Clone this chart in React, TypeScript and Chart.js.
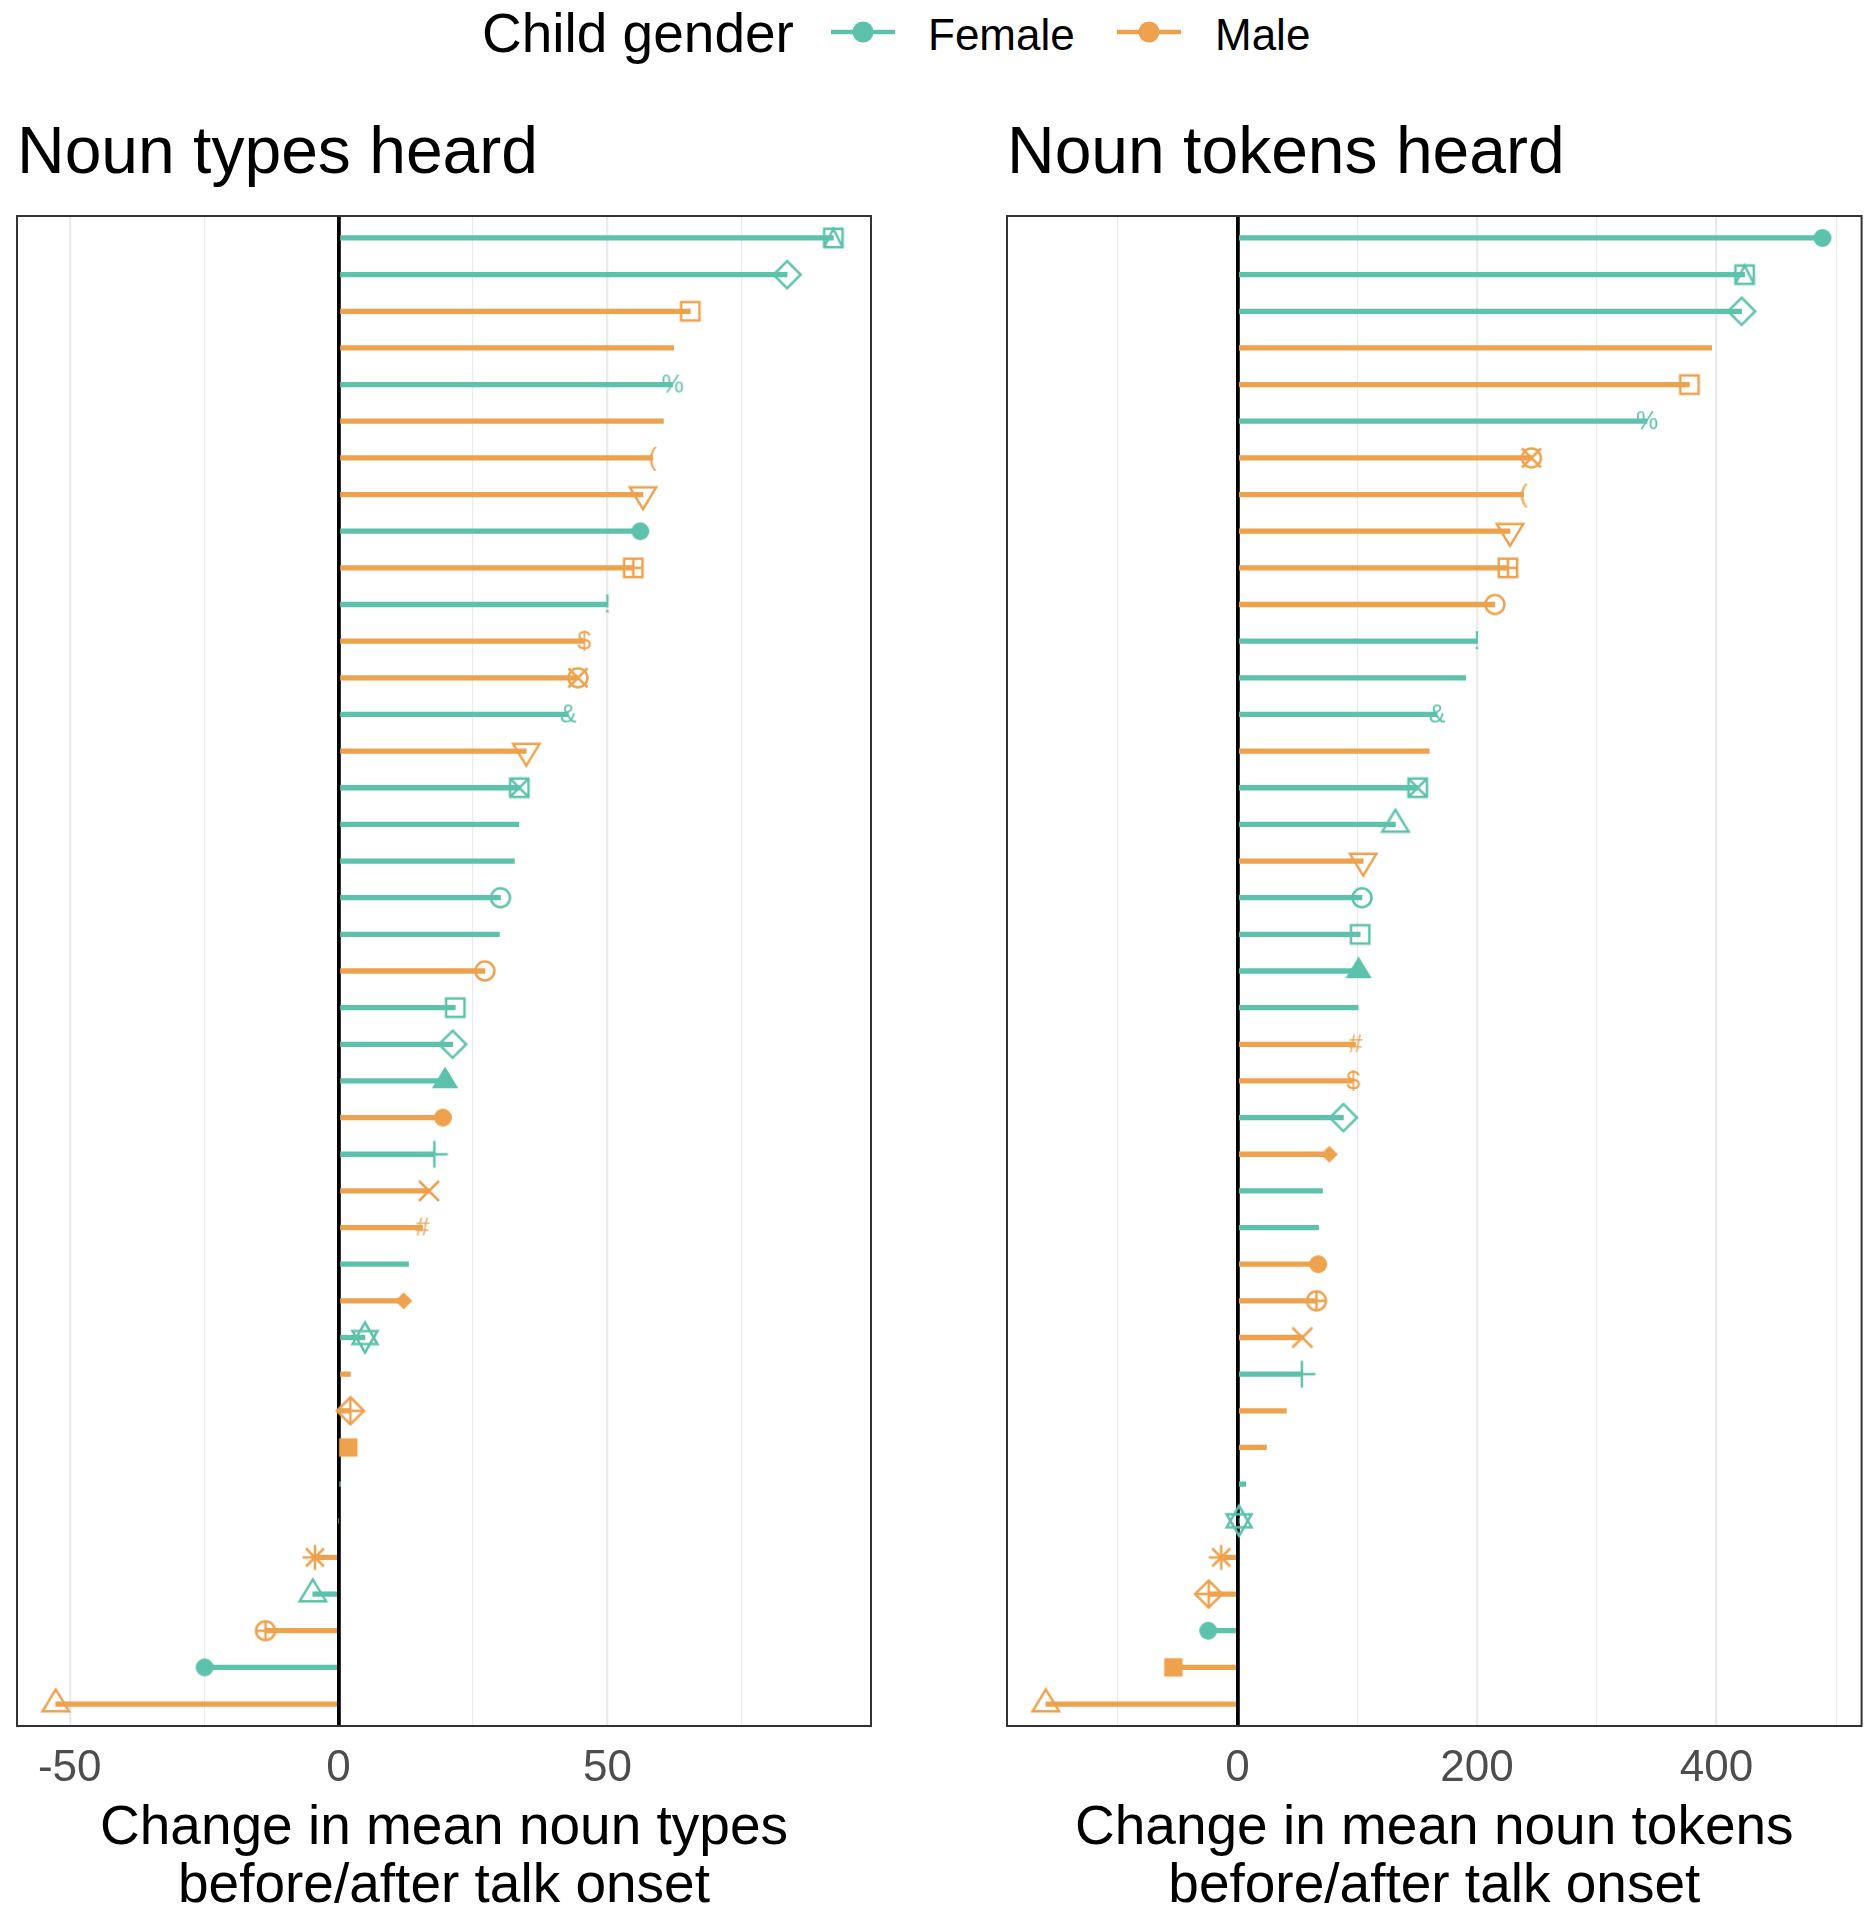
import React, { useEffect, useRef } from 'react';
import { Chart, registerables } from 'chart.js';

Chart.register(...registerables);

const FONT = "'Liberation Sans', Arial, Helvetica, sans-serif";
const FEMALE_COLOR = '#5DC2AC';
const MALE_COLOR = '#EEA24E';

// ---------- legend ----------
const legendTitle = 'Child gender';
const genderNames = ['Female', 'Male'];

// ---------- left panel: noun types ----------
const typesTitle = 'Noun types heard';
const typesAxisTitle = ['Change in mean noun types', 'before/after talk onset'];
const typesValues = [
  92.0, 83.4, 65.4, 62.3, 62.1, 60.4, 58.4, 56.6, 56.1, 54.8,
  50.0, 45.7, 44.5, 42.7, 34.9, 33.6, 33.5, 32.7, 30.1, 29.9,
  27.2, 21.7, 21.2, 19.8, 19.4, 17.8, 16.8, 15.6, 13.0, 12.1,
  4.9, 2.2, 2.2, 1.8, 0.2, 0, -4.4, -4.8, -13.6, -24.9, -52.6,
];
const typesGender = [
  'F', 'F', 'M', 'M', 'F', 'M', 'M', 'M', 'F', 'M',
  'F', 'M', 'M', 'F', 'M', 'F', 'F', 'F', 'F', 'F',
  'M', 'F', 'F', 'F', 'M', 'F', 'M', 'M', 'F', 'M',
  'F', 'M', 'M', 'M', 'F', 'M', 'M', 'F', 'M', 'F', 'M',
];
const typesShape = [
  'sqTri', 'diamond', 'square', '', '%', '', '(', 'triDown', 'dot', 'sqPlus',
  '!', '$', 'circCross', '&', 'triDown', 'sqCross', '', '', 'circle', '',
  'circle', 'square', 'diamond', 'triFill', 'dot', 'plus', 'x', '#', '', 'diamondFill',
  'star6', '', 'diamondPlus', 'squareFill', '', '', 'asterisk', 'triOpen', 'circPlus', 'dot', 'triOpen',
];
const typesGridLines = [-50, -25, 0, 25, 50, 75];
const typesTickLabels = [-50, 0, 50];

// ---------- right panel: noun tokens ----------
const tokensTitle = 'Noun tokens heard';
const tokensAxisTitle = ['Change in mean noun tokens', 'before/after talk onset'];
const tokensValues = [
  488.5, 423.5, 421.0, 396.0, 377.4, 342.0, 245.5, 239.0, 227.6, 225.8,
  215.0, 200.0, 190.7, 166.7, 160.2, 150.5, 131.9, 105.0, 104.0, 102.5,
  101.2, 100.8, 98.6, 96.8, 88.5, 76.7, 71.0, 67.8, 67.4, 66.0,
  54.2, 53.8, 40.9, 24.2, 7.0, 1.4, -13.5, -24.0, -24.4, -53.5, -160.0,
];
const tokensGender = [
  'F', 'F', 'F', 'M', 'M', 'F', 'M', 'M', 'M', 'M',
  'M', 'F', 'F', 'F', 'M', 'F', 'F', 'M', 'F', 'F',
  'F', 'F', 'M', 'M', 'F', 'M', 'F', 'F', 'M', 'M',
  'M', 'F', 'M', 'M', 'F', 'F', 'M', 'M', 'F', 'M', 'M',
];
const tokensShape = [
  'dot', 'sqTri', 'diamond', '', 'square', '%', 'circCross', '(', 'triDown', 'sqPlus',
  'circle', '!', '', '&', '', 'sqCross', 'triOpen', 'triDown', 'circle', 'square',
  'triFill', '', '#', '$', 'diamond', 'diamondFill', '', '', 'dot', 'circPlus',
  'x', 'plus', '', '', '', 'star6', 'asterisk', 'diamondPlus', 'dot', 'squareFill', 'triOpen',
];
const tokensGridLines = [-100, 0, 100, 200, 300, 400, 500];
const tokensTickLabels = [0, 200, 400];

// ---------- marker images (ggplot-like shapes) ----------
function makeMarker(shape: string, color: string): HTMLCanvasElement | null {
  if (!shape) return null;
  const S = 46;
  const c = document.createElement('canvas');
  c.width = S;
  c.height = S;
  const g = c.getContext('2d') as CanvasRenderingContext2D;
  g.translate(S / 2, S / 2);
  g.strokeStyle = color;
  g.fillStyle = color;
  g.lineWidth = 2.5;
  g.lineJoin = 'miter';
  const sq = 9.2;
  const rc = 9.5;
  const line = (x1: number, y1: number, x2: number, y2: number) => {
    g.beginPath();
    g.moveTo(x1, y1);
    g.lineTo(x2, y2);
    g.stroke();
  };
  const rect = () => g.strokeRect(-sq, -sq, 2 * sq, 2 * sq);
  const circ = () => {
    g.beginPath();
    g.arc(0, 0, rc, 0, Math.PI * 2);
    g.stroke();
  };
  const tri = (up: boolean, fill: boolean, w = 13.2, top = 14.6, bot = 7.2) => {
    const a = up ? -top : top;
    const b = up ? bot : -bot;
    g.beginPath();
    g.moveTo(0, a);
    g.lineTo(w, b);
    g.lineTo(-w, b);
    g.closePath();
    if (fill) g.fill();
    else g.stroke();
  };
  const dia = (d: number) => {
    g.beginPath();
    g.moveTo(0, -d);
    g.lineTo(d, 0);
    g.lineTo(0, d);
    g.lineTo(-d, 0);
    g.closePath();
  };
  switch (shape) {
    case 'square':
      rect();
      break;
    case 'sqTri':
      rect();
      g.beginPath();
      g.moveTo(-sq, sq);
      g.lineTo(0, -sq);
      g.lineTo(sq, sq);
      g.stroke();
      break;
    case 'sqCross':
      rect();
      line(-sq, -sq, sq, sq);
      line(-sq, sq, sq, -sq);
      break;
    case 'sqPlus':
      rect();
      line(0, -sq, 0, sq);
      line(-sq, 0, sq, 0);
      break;
    case 'squareFill':
      g.fillRect(-sq, -sq, 2 * sq, 2 * sq);
      break;
    case 'circle':
      circ();
      break;
    case 'dot':
      g.beginPath();
      g.arc(0, 0, 9, 0, Math.PI * 2);
      g.fill();
      break;
    case 'circCross':
      circ();
      line(-rc, -rc, rc, rc);
      line(-rc, rc, rc, -rc);
      break;
    case 'circPlus':
      circ();
      line(0, -rc, 0, rc);
      line(-rc, 0, rc, 0);
      break;
    case 'triOpen':
      tri(true, false);
      break;
    case 'triFill':
      tri(true, true);
      break;
    case 'triDown':
      tri(false, false);
      break;
    case 'star6':
      tri(true, false, 12.5, 15, 6.6);
      tri(false, false, 12.5, 15, 6.6);
      break;
    case 'diamond':
      dia(13.6);
      g.stroke();
      break;
    case 'diamondPlus':
      dia(13.6);
      g.stroke();
      line(0, -13.6, 0, 13.6);
      line(-13.6, 0, 13.6, 0);
      break;
    case 'diamondFill':
      dia(8.6);
      g.fill();
      break;
    case 'plus':
      line(0, -13.5, 0, 13.5);
      line(-13.5, 0, 13.5, 0);
      break;
    case 'x':
      line(-10, -10, 10, 10);
      line(-10, 10, 10, -10);
      break;
    case 'asterisk':
      line(0, -12.5, 0, 12.5);
      line(-12.5, 0, 12.5, 0);
      line(-9, -9, 9, 9);
      line(-9, 9, 9, -9);
      break;
    default:
      g.font = `25px ${FONT}`;
      g.textAlign = 'center';
      g.textBaseline = 'middle';
      g.fillText(shape, 0, 1);
  }
  return c;
}

const panelBorder = {
  id: 'panelBorder',
  afterDatasetsDraw(chart: any) {
    const { ctx, chartArea: a } = chart;
    ctx.save();
    ctx.strokeStyle = '#333333';
    ctx.lineWidth = 2;
    ctx.strokeRect(a.left, a.top, a.right - a.left, a.bottom - a.top);
    ctx.restore();
  },
};

type PanelProps = {
  left: number;
  width: number;
  padLeft: number;
  padRight: number;
  title: string;
  axisTitle: string[];
  values: number[];
  genders: string[];
  shapes: string[];
  xMin: number;
  xMax: number;
  gridLines: number[];
  tickLabels: number[];
};

function Panel(p: PanelProps) {
  const ref = useRef<HTMLCanvasElement | null>(null);
  useEffect(() => {
    const canvas = ref.current as HTMLCanvasElement;
    const points = p.values.map((v, i) => ({ x: v, y: i + 1 }));
    const colors = p.genders.map((g) => (g === 'F' ? FEMALE_COLOR : MALE_COLOR));
    const styles = p.shapes.map((s, i) => makeMarker(s, colors[i]) || 'circle');
    const radii = p.shapes.map((s) => (s ? 10 : 0));
    const chart = new Chart(canvas, {
      type: 'bar',
      data: {
        datasets: [
          {
            type: 'bar',
            data: points,
            backgroundColor: colors,
            borderWidth: 0,
            barThickness: 4.6,
            indexAxis: 'y',
            order: 2,
          } as any,
          {
            type: 'scatter',
            data: points,
            pointStyle: styles,
            pointRadius: radii,
            pointHoverRadius: radii,
            pointBorderWidth: 0,
            backgroundColor: colors,
            showLine: false,
            order: 1,
          } as any,
        ],
      },
      options: {
        indexAxis: 'y',
        responsive: false,
        animation: false,
        devicePixelRatio: 1,
        events: [],
        layout: { padding: { left: p.padLeft, right: p.padRight, top: 0, bottom: 0 } },
        plugins: {
          legend: { display: false },
          tooltip: { enabled: false },
          title: {
            display: true,
            text: p.title,
            align: 'start',
            color: '#000000',
            font: { family: FONT, size: 66, weight: 'normal', lineHeight: 1.2 },
            padding: { top: 115, bottom: 21.8 },
          },
        },
        scales: {
          x: {
            type: 'linear',
            position: 'bottom',
            min: p.xMin,
            max: p.xMax,
            afterBuildTicks: (scale: any) => {
              scale.ticks = p.gridLines.map((v) => ({ value: v }));
            },
            afterFit: (scale: any) => {
              scale.height = 194;
            },
            ticks: {
              autoSkip: false,
              maxRotation: 0,
              padding: 16,
              color: '#4D4D4D',
              font: { family: FONT, size: 44, lineHeight: 1.2 },
              callback: (v: any) => (p.tickLabels.includes(Number(v)) ? String(v) : ''),
            },
            grid: {
              drawTicks: false,
              color: (c: any) => (c.tick && c.tick.value === 0 ? '#000000' : '#EBEBEB'),
              lineWidth: (c: any) => {
                if (!c.tick) return 1;
                if (c.tick.value === 0) return 3.8;
                return p.tickLabels.includes(c.tick.value) ? 2.3 : 1.2;
              },
            },
            border: { display: false },
            title: {
              display: true,
              text: p.axisTitle,
              color: '#000000',
              font: { family: FONT, size: 55, lineHeight: 58 / 55 },
              padding: { top: 0, bottom: 4 },
            },
          },
          y: {
            type: 'linear',
            display: false,
            min: 0.4,
            max: p.values.length + 0.6,
            reverse: true,
            offset: false,
          },
        },
      } as any,
      plugins: [panelBorder],
    });
    return () => chart.destroy();
  }, []);
  return (
    <canvas
      ref={ref}
      width={p.width}
      height={1920}
      style={{ position: 'absolute', left: p.left, top: 0, width: p.width, height: 1920, display: 'block' }}
    />
  );
}

function LegendGlyph({ left, color }: { left: number; color: string }) {
  return (
    <svg
      width={64}
      height={24}
      style={{ position: 'absolute', left, top: 20.3 }}
      viewBox="0 0 64 24"
    >
      <line x1={0} y1={12} x2={64} y2={12} stroke={color} strokeWidth={4.5} />
      <circle cx={32} cy={12} r={10.5} fill={color} />
    </svg>
  );
}

export default function App() {
  return (
    <div
      style={{
        position: 'absolute',
        left: 0,
        top: 0,
        width: 1875,
        height: 1920,
        overflow: 'hidden',
        background: '#ffffff',
        fontFamily: FONT,
        color: '#000000',
      }}
    >
      <div style={{ position: 'absolute', left: 482, top: -1, fontSize: 55, lineHeight: '68px', whiteSpace: 'nowrap' }}>
        {legendTitle}
      </div>
      <LegendGlyph left={831} color={FEMALE_COLOR} />
      <div style={{ position: 'absolute', left: 928, top: 1, fontSize: 44, lineHeight: '68px', whiteSpace: 'nowrap' }}>
        {genderNames[0]}
      </div>
      <LegendGlyph left={1117} color={MALE_COLOR} />
      <div style={{ position: 'absolute', left: 1215, top: 1, fontSize: 44, lineHeight: '68px', whiteSpace: 'nowrap' }}>
        {genderNames[1]}
      </div>
      <Panel
        left={0}
        width={937}
        padLeft={17}
        padRight={66}
        title={typesTitle}
        axisTitle={typesAxisTitle}
        values={typesValues}
        genders={typesGender}
        shapes={typesShape}
        xMin={-59.8}
        xMax={99.0}
        gridLines={typesGridLines}
        tickLabels={typesTickLabels}
      />
      <Panel
        left={937}
        width={938}
        padLeft={70}
        padRight={13.4}
        title={tokensTitle}
        axisTitle={tokensAxisTitle}
        values={tokensValues}
        genders={tokensGender}
        shapes={tokensShape}
        xMin={-192.4}
        xMax={521.2}
        gridLines={tokensGridLines}
        tickLabels={tokensTickLabels}
      />
    </div>
  );
}
